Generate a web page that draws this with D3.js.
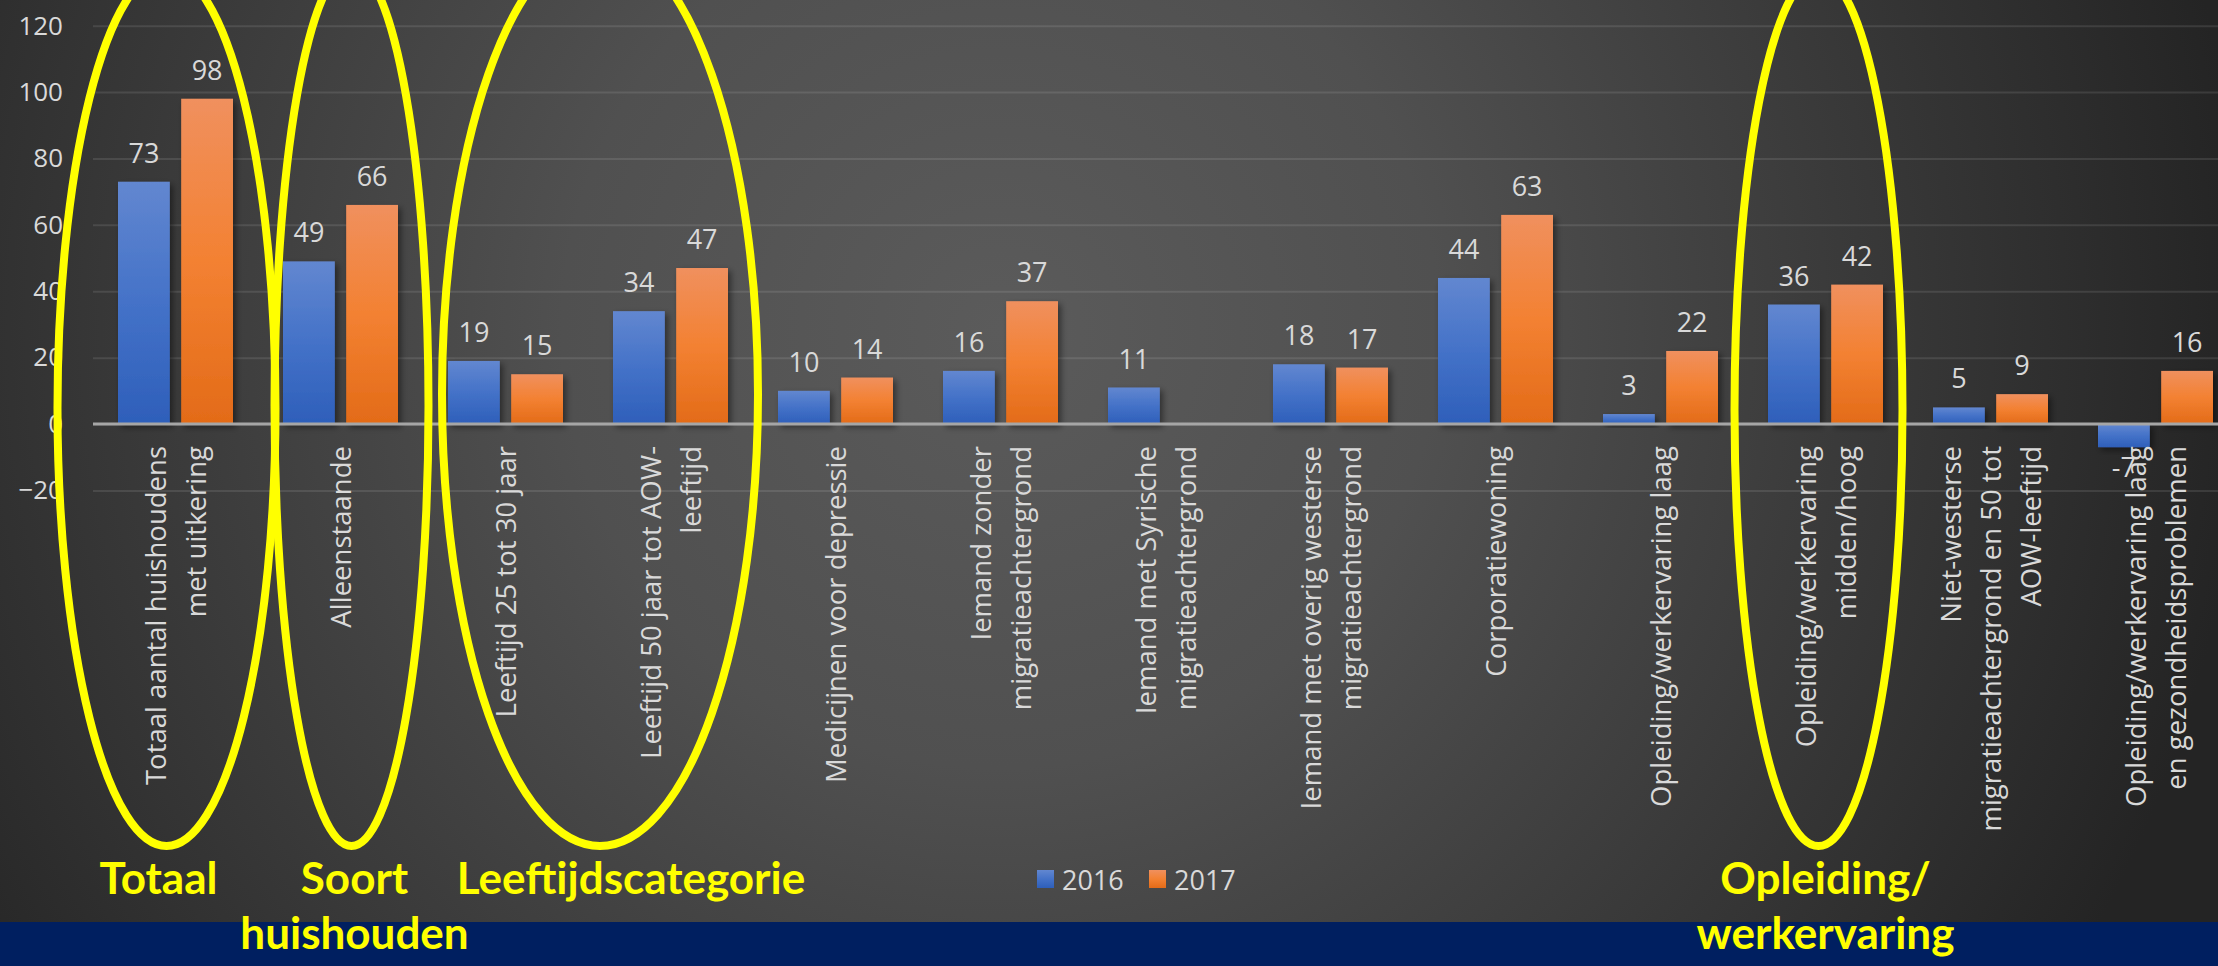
<!DOCTYPE html>
<html>
<head>
<meta charset="utf-8">
<script src="https://cdn.jsdelivr.net/npm/d3@7"></script>
<style>
  body { margin: 0; background: #2a2a2a; overflow: hidden; }
  text { font-family: "Open Sans", "DejaVu Sans", sans-serif; }
</style>
</head>
<body>
<div id="chart-area"></div>
<script>
// data
var categories = [
  "Totaal aantal huishoudens met uitkering",
  "Alleenstaande",
  "Leeftijd 25 tot 30 jaar",
  "Leeftijd 50 jaar tot AOW-leeftijd",
  "Medicijnen voor depressie",
  "Iemand zonder migratieachtergrond",
  "Iemand met Syrische migratieachtergrond",
  "Iemand met overig westerse migratieachtergrond",
  "Corporatiewoning",
  "Opleiding/werkervaring laag",
  "Opleiding/werkervaring midden/hoog",
  "Niet-westerse migratieachtergrond en 50 tot AOW-leeftijd",
  "Opleiding/werkervaring laag en gezondheidsproblemen"
];
// how the category names wrap on the axis
var categoryLines = [
  ["Totaal aantal huishoudens", "met uitkering"],
  ["Alleenstaande"],
  ["Leeftijd 25 tot 30 jaar"],
  ["Leeftijd 50 jaar tot AOW-", "leeftijd"],
  ["Medicijnen voor depressie"],
  ["Iemand zonder", "migratieachtergrond"],
  ["Iemand met Syrische", "migratieachtergrond"],
  ["Iemand met overig westerse", "migratieachtergrond"],
  ["Corporatiewoning"],
  ["Opleiding/werkervaring laag"],
  ["Opleiding/werkervaring", "midden/hoog"],
  ["Niet-westerse", "migratieachtergrond en 50 tot", "AOW-leeftijd"],
  ["Opleiding/werkervaring laag", "en gezondheidsproblemen"]
];
var series = ["2016", "2017"];
var values2016 = [73, 49, 19, 34, 10, 16, 11, 18, 44, 3, 36, 5, -7];
var values2017 = [98, 66, 15, 47, 14, 37, null, 17, 63, 22, 42, 9, 16];
var yTicks = [-20, 0, 20, 40, 60, 80, 100, 120];

// yellow annotations: which categories they circle and their captions
var groupCats = [[0], [1], [2, 3], [10]];
var groupLabels = [["Totaal"], ["Soort", "huishouden"], ["Leeftijdscategorie"], ["Opleiding/", "werkervaring"]];

var W = 2218, H = 966;

var svg = d3.select("#chart-area")
  .append("svg")
  .attr("width", W)
  .attr("height", H);

var defs = svg.append("defs");

var bg = defs.append("radialGradient")
  .attr("id", "bg")
  .attr("gradientUnits", "userSpaceOnUse")
  .attr("cx", 1000).attr("cy", 330).attr("r", 1250);
bg.append("stop").attr("offset", 0).attr("stop-color", "#5b5b5b");
bg.append("stop").attr("offset", 0.35).attr("stop-color", "#505050");
bg.append("stop").attr("offset", 1).attr("stop-color", "#242424");

function barGrad(id, c0, c1, c2) {
  var gr = defs.append("linearGradient").attr("id", id)
    .attr("x1", 0).attr("y1", 0).attr("x2", 0).attr("y2", 1);
  gr.append("stop").attr("offset", 0).attr("stop-color", c0);
  gr.append("stop").attr("offset", 0.5).attr("stop-color", c1);
  gr.append("stop").attr("offset", 1).attr("stop-color", c2);
}
barGrad("g2016", "#6287d0", "#4472c8", "#2e5fba");
barGrad("g2017", "#f0905e", "#f38132", "#e36b18");

defs.append("filter").attr("id", "shadow")
  .attr("x", "-20%").attr("y", "-20%").attr("width", "150%").attr("height", "150%")
  .append("feDropShadow")
  .attr("dx", 3).attr("dy", 3).attr("stdDeviation", 3)
  .attr("flood-color", "#000").attr("flood-opacity", 0.45);

svg.append("rect").attr("width", W).attr("height", H).attr("fill", "url(#bg)");

// scales
var x0 = d3.scaleBand().domain(categories).range([93, 2238]);
var x1 = d3.scaleBand().domain(series).range([25, 140]).paddingInner(0.18);
var y = d3.scaleLinear().domain([-20, 120]).range([490.4, 25.7]);
var color = d3.scaleOrdinal().domain(series).range(["url(#g2016)", "url(#g2017)"]);

// gridlines + tick labels
var yAxisCall = d3.axisLeft(y).tickValues(yTicks).tickSize(-(W - 93)).tickPadding(30);
var yAxis = svg.append("g")
  .attr("class", "y-axis")
  .attr("transform", "translate(93,0)")
  .call(yAxisCall);
yAxis.select(".domain").remove();
yAxis.selectAll("line")
  .attr("stroke", "#ffffff")
  .attr("stroke-opacity", 0.1)
  .attr("stroke-width", 2);
yAxis.selectAll("text")
  .attr("fill", "#d9d9d9")
  .attr("font-size", "26px")
  .style("font-family", "'Open Sans', sans-serif");

// bars
var rows = categories.map(function(c, i) {
  return { cat: c, vals: [
    { key: "2016", value: values2016[i] },
    { key: "2017", value: values2017[i] }
  ] };
});

var groups = svg.selectAll("g.cat").data(rows).enter().append("g")
  .attr("class", "cat")
  .attr("transform", function(d) { return "translate(" + x0(d.cat) + ",0)"; });

groups.selectAll("rect")
  .data(function(d) { return d.vals.filter(function(v) { return v.value !== null; }); })
  .enter().append("rect")
  .attr("x", function(d) { return x1(d.key); })
  .attr("width", x1.bandwidth())
  .attr("y", function(d) { return y(Math.max(0, d.value)); })
  .attr("height", function(d) { return Math.abs(y(d.value) - y(0)); })
  .attr("fill", function(d) { return color(d.key); })
  .attr("filter", "url(#shadow)");

// zero line
svg.append("line")
  .attr("x1", 93).attr("x2", W)
  .attr("y1", y(0)).attr("y2", y(0))
  .attr("stroke", "#a6a6a6")
  .attr("stroke-width", 3);

// category labels, rotated
var labels = svg.selectAll("g.xlab").data(categories).enter().append("g")
  .attr("class", "xlab")
  .attr("transform", function(d) {
    return "translate(" + (x0(d) + x0.bandwidth() / 2) + ",446) rotate(-90)";
  });
labels.append("text")
  .attr("text-anchor", "end")
  .attr("fill", "#d9d9d9")
  .attr("font-size", "27.5px")
  .selectAll("tspan")
  .data(function(d, i) {
    var lines = categoryLines[i];
    return lines.map(function(l, j) { return { t: l, off: (j - (lines.length - 1) / 2) * 40 }; });
  })
  .enter().append("tspan")
  .attr("x", 0)
  .attr("y", function(d) { return d.off; })
  .attr("dominant-baseline", "central")
  .text(function(d) { return d.t; });

// value labels
groups.selectAll("text.val")
  .data(function(d) { return d.vals.filter(function(v) { return v.value !== null; }); })
  .enter().append("text")
  .attr("class", "val")
  .attr("x", function(d) { return x1(d.key) + x1.bandwidth() / 2; })
  .attr("y", function(d) { return d.value >= 0 ? y(d.value) - 19 : y(d.value) + 30; })
  .attr("text-anchor", "middle")
  .attr("fill", "#d9d9d9")
  .attr("font-size", "27px")
  .text(function(d) { return d.value; });

// legend
var legend = svg.append("g").attr("transform", "translate(1037,870)");
var li = legend.selectAll("g").data(series).enter().append("g")
  .attr("transform", function(d, i) { return "translate(" + (i * 112) + ",0)"; });
li.append("rect").attr("width", 17).attr("height", 18)
  .attr("fill", function(d) { return color(d); });
li.append("text").attr("x", 25).attr("y", 9)
  .attr("dominant-baseline", "central")
  .attr("fill", "#d9d9d9")
  .attr("font-size", "27px")
  .text(function(d) { return d; });

// bottom band
svg.append("rect").attr("x", 0).attr("y", 922).attr("width", W).attr("height", H - 922)
  .attr("fill", "#001f60");

// yellow ellipses around category groups, with their captions
var ellipseSize = [
  { dx: -9, rx: 109, ry: 438, textDx: -8 },
  { dx: 11, rx: 77, ry: 440, textDx: 3 },
  { dx: 12, rx: 158, ry: 452, textDx: 31 },
  { dx: -7, rx: 84, ry: 436, textDx: 7 }
];
groupCats.forEach(function(cats, i) {
  var cx = d3.mean(cats, function(c) { return x0(categories[c]) + x0.bandwidth() / 2; }) + ellipseSize[i].dx;
  var e = ellipseSize[i];
  svg.append("ellipse")
    .attr("cx", cx).attr("cy", 846 - e.ry)
    .attr("rx", e.rx).attr("ry", e.ry)
    .attr("fill", "none")
    .attr("stroke", "#ffff00")
    .attr("stroke-width", 8);
  var t = svg.append("text")
    .attr("text-anchor", "middle")
    .attr("fill", "#ffff00")
    .attr("font-size", "44px")
    .attr("font-weight", "bold")
    .style("font-family", "Lato, sans-serif");
  groupLabels[i].forEach(function(line, j) {
    t.append("tspan").attr("x", cx + e.textDx).attr("y", 894 + j * 55).text(line);
  });
});
</script>
</body>
</html>
